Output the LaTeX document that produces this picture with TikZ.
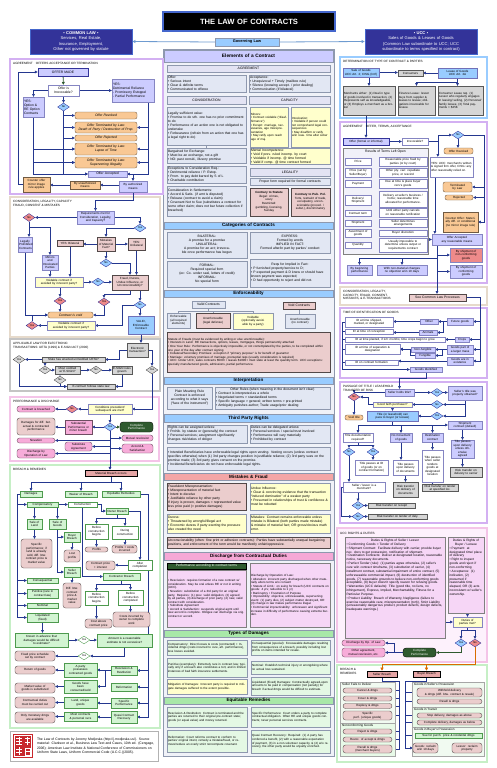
\documentclass[tikz,border=0pt]{standalone}
\usepackage{fontspec}
\setmainfont{Liberation Sans}
\usetikzlibrary{arrows.meta,shapes.geometric,calc}
\pgfdeclarelayer{back}\pgfdeclarelayer{mid}\pgfsetlayers{back,mid,main}
\definecolor{navy}{HTML}{333399}
\definecolor{navyb}{HTML}{4466CC}
\definecolor{lav}{HTML}{CCCCFF}
\definecolor{purpf}{HTML}{D3B0F2}
\definecolor{lblue}{HTML}{99CCFF}
\definecolor{gblue}{HTML}{E2E7F3}
\definecolor{gborder}{HTML}{8E98AE}
\definecolor{cbg}{HTML}{F0F2F8}
\definecolor{shcol}{HTML}{E3E3F3}
\definecolor{rosy}{HTML}{EBCDCD}
\definecolor{rosydk}{HTML}{E5A5A5}
\definecolor{salmon}{HTML}{F4A6A6}
\definecolor{pinkh}{HTML}{F6A8D6}
\definecolor{pinkbox}{HTML}{F7ACD9}
\definecolor{pinklt}{HTML}{F6D6F6}
\definecolor{pinkfr}{HTML}{F4C4E8}
\definecolor{pinkbg}{HTML}{FDF1FC}
\definecolor{greenh}{HTML}{A8E8A8}
\definecolor{greenbox}{HTML}{D2F4D2}
\definecolor{greenb}{HTML}{4E9A4E}
\definecolor{greenfr}{HTML}{C6EFC6}
\definecolor{subg}{HTML}{F1FAF1}
\definecolor{yel}{HTML}{FFFFCC}
\definecolor{orng}{HTML}{F9C894}
\definecolor{dgreen}{HTML}{2F5A2F}
\definecolor{arrowc}{HTML}{24378F}
\definecolor{beigefr}{HTML}{E6DACB}
\definecolor{grayf}{HTML}{D6D6D6}
\definecolor{grayfr}{HTML}{C4C4C4}
\definecolor{redf}{HTML}{EE8A8A}
\definecolor{sealred}{HTML}{C8282D}
\definecolor{govline}{HTML}{6E9BD0}
\newcommand\fta{\fontsize{3.35}{4.0}\selectfont}
\newcommand\fsm{\fontsize{3.0}{3.55}\selectfont}
\newcommand{\bx}[7][]{%
\pgfmathsetmacro{\bxw}{#5-#3}%
\pgfmathsetmacro{\bxh}{#6-#4}%
\pgfmathsetmacro{\bxt}{max(#5-#3-2,2)}%
\node[bxs,minimum width=\bxw pt,minimum height=\bxh pt,text width=\bxt pt,#1] (#2) at ({(#3+#5)/2},{(#4+#6)/2}) {#7};}
\newcommand{\dm}[5][]{\node[dms,#1] (#2) at (#3,#4) {#5};}
\tikzset{
 bxs/.style={draw=gborder,line width=0.35pt,fill=white,inner xsep=1pt,inner ysep=0.3pt,align=center,font=\fta},
 L/.style={align=left},
 S/.style={font=\fsm},
 cb/.style={fill=gblue,draw=gborder},
 hd/.style={fill=lav,draw=gborder,font=\bfseries\fontsize{4.8}{5.4}\selectfont},
 hb/.style={fill=lblue,draw=gborder,font=\bfseries\fontsize{4.6}{5.2}\selectfont},
 hr/.style={fill=salmon,draw=gborder,font=\bfseries\fontsize{4.6}{5.2}\selectfont},
 hp/.style={fill=pinkh,draw=gborder,font=\bfseries\fontsize{4.6}{5.2}\selectfont},
 hg/.style={fill=greenh,draw=gborder,font=\bfseries\fontsize{4.6}{5.2}\selectfont},
 sh/.style={fill=shcol,draw=gborder,font=\fontsize{3.4}{4}\selectfont},
 wb/.style={fill=white,draw=navy!60},
 lavd/.style={fill=lav,draw=navy,line width=0.6pt},
 lavg/.style={fill=lav,draw=navy!60},
 orb/.style={fill=orng,draw=orng!45!black,rounded corners=2pt,font=\itshape\fta},
 orsq/.style={fill=orng,draw=orng!45!black},
 rosyb/.style={fill=rosy,draw=rosy!35!black},
 rosyr/.style={fill=rosy,draw=rosy!35!black,rounded corners=2.5pt},
 rosyd/.style={fill=rosydk,draw=black,line width=0.5pt},
 yelb/.style={fill=yel,draw=navy!60},
 yelc/.style={fill=yel,draw=gborder},
 blueb/.style={fill=lblue,draw=navy!70},
 grayb/.style={fill=grayf,draw=gray!70!black},
 pinkr/.style={fill=pinkbox,draw=pinkbox!45!black,rounded corners=2.5pt},
 pinks/.style={fill=pinkbox,draw=pinkbox!45!black},
 pinkl/.style={fill=pinklt,draw=gray},
 dgr/.style={fill=dgreen,draw=black,text=white,rounded corners=3pt},
 grb/.style={fill=greenbox,draw=greenb},
 grc/.style={fill=greenbox!60,draw=gborder},
 wgb/.style={fill=white,draw=greenb},
 redb/.style={fill=redf,draw=navy!60},
 frP/.style={draw=purpf,line width=1.8pt,fill=white},
 frB/.style={draw=lblue,line width=1.8pt,fill=white},
 frE/.style={draw=beigefr,line width=1.8pt,fill=white},
 frG/.style={draw=grayfr,line width=1.8pt,fill=white},
 frK/.style={draw=pinkfr,line width=1.8pt,fill=white},
 frKb/.style={draw=pinkfr,line width=1.8pt,fill=pinkbg},
 frN/.style={draw=greenfr,line width=1.8pt,fill=white},
 subf/.style={draw=gray!70,fill=subg,line width=0.4pt},
 ttl/.style={font=\fontsize{3.1}{3.7}\selectfont,inner sep=0pt,align=left,anchor=north west},
 dms/.style={diamond,draw=navy,fill=lblue,inner sep=0pt,minimum width=12pt,minimum height=8pt,font=\fontsize{2.7}{3}\selectfont,line width=0.35pt},
 dR/.style={fill=redf},
 dG/.style={fill=grayf,draw=gray!60!black},
 dW/.style={fill=white,draw=greenb},
 ar/.style={draw=arrowc,line width=0.6pt,-{Triangle[length=2.8pt,width=2.7pt]}},
 ln/.style={draw=arrowc,line width=0.6pt},
 arO/.style={draw=orange!85!black,line width=0.9pt,-{Triangle[length=3.2pt,width=3.2pt]}},
 arG/.style={draw=dgreen,line width=0.8pt,-{Triangle[length=2.8pt,width=2.8pt]}},
}
\begin{document}
\begin{tikzpicture}[x=1pt,y=-1pt]
\useasboundingbox (0,0) rectangle (497,768);
\begin{pgfonlayer}{back}
\fill[white] (0,0) rectangle (497,768);
\bx[fill=cbg,draw=gborder,line width=0.8pt]{fCen}{163}{49}{334}{756}{}
\bx[frP]{fAg}{10}{59}{163}{194}{}
\bx[frE]{fCo}{10}{197}{160}{337}{}
\bx[frG]{fEl}{10}{339}{160}{391}{}
\bx[frK]{fPe}{10}{397}{159}{461}{}
\bx[frN]{fBr}{10}{465}{160}{728}{}
\bx[draw=gray!60,fill=white,line width=0.6pt]{fCi}{10}{731}{158}{761}{}
\bx[frB]{fDt}{340}{57}{487}{118}{}
\bx[frP]{fAr}{340}{122}{487}{283}{}
\bx[frE]{fCr}{340}{287}{487}{305}{}
\bx[frP]{fTi}{340}{308}{487}{378}{}
\bx[frP]{fPa}{340}{382}{487}{523}{}
\bx[frKb]{fUr}{337}{528}{487}{662}{}
\bx[frN]{fBr2}{337}{665}{487}{762}{}
\end{pgfonlayer}
% ---------- top ----------
\bx[fill=black,draw=navyb,line width=1.3pt,text=white,font=\bfseries\fontsize{7.6}{9}\selectfont]{title}{163}{12}{335}{31}{THE LAW OF CONTRACTS}
\bx[fill=navy,draw=navyb,line width=0.8pt,text=white,font=\fontsize{4.1}{5.3}\selectfont]{cl}{30}{29}{132}{54}{{\bfseries • COMMON LAW •}\\Services, Real Estate,\\Insurance, Employment,\\Other not governed by statute}
\bx[fill=navy,draw=navyb,line width=0.8pt,text=white,font=\fontsize{4.1}{5.3}\selectfont]{ucc}{365}{29}{477}{54}{{\bfseries • UCC •}\\Sales of Goods \& Leases of Goods\\(Common Law subordinate to UCC; UCC\\subordinate to terms specified in contract)}
\bx[fill=lblue,draw=gborder,font=\bfseries\fontsize{3.9}{4.5}\selectfont]{gov}{215}{38}{279}{46}{Governing Law}
% ---------- central column ----------
\bx[hd]{hElem}{164}{50}{333}{62}{Elements of a Contract}
\bx[sh]{hAgr}{167}{65}{330}{72}{AGREEMENT}
\bx[cb,L]{offer}{167}{75}{246}{92}{Offer:\\• Serious intent\\• Clear \& definite terms\\• Communicated to offeree}
\bx[cb,L]{accept}{249}{75}{330}{92}{Acceptance:\\• Unequivocal + Timely (mailbox rule)\\• Silence (knowing accept. / prior dealing)\\• Communication (if bilateral)}
\bx[sh]{hCons}{167}{96}{246}{104}{CONSIDERATION}
\bx[sh]{hCap}{249}{96}{330}{104}{CAPACITY}
\bx[cb,L]{lsv}{167}{107}{246}{145}{Legally sufficient value:\\• Promise to do sth. one has no prior commitment to do\\• Performance of an action one is not obligated to undertake\\• Forbearance (refrain from an action that one has a legal right to do)}
\bx[yelc,L,S]{minors}{250}{107}{288}{147}{Minors:\\• Contract voidable (“disaffirmance”)\\• Except: marriage, necessaries, age misrepresentation\\• May ratify upon reach age of maj.}
\bx[yelc,L,S]{intox}{291}{107}{330}{147}{Intoxication:\\• Voidable if person could not comprehend legal consequences\\• May disaffirm or ratify w/in reas. time after sober}
\bx[cb,L]{bfe}{167}{148}{246}{163}{Bargained for Exchange:\\• Must be an exchange, not a gift\\• NO: past consid., illusory promise}
\bx[yelc,L]{mental}{250}{149}{330}{164}{Mental Incompetence:\\• Void if prev. ruled incomp. by court\\• Voidable if incomp. @ time formed\\• Valid if comp. @ time contract formed}
\bx[cb,L]{excep}{167}{166}{246}{183}{Exceptions to Consideration Req.:\\• Detrimental reliance / P. Estop.\\• Prom. to pay debt barred by S of L\\• Charitable contribution}
\bx[sh]{hLeg}{250}{168}{330}{176}{LEGALITY}
\bx[cb]{proper}{250}{178}{330}{185}{Proper form required for formal contracts}
\bx[cb,L]{settle}{167}{186}{246}{216}{Consideration in Settlements:\\• Accord \& Satis. (if amt is disputed)\\• Release (contract to avoid a claim)\\• Covenant Not to Sue (substitutes a contract for some other claim; does not bar future collection if breached)}
\bx[rosyb,S]{cstat}{250}{188}{288}{216}{{\bfseries Contrary to Statute}\\illegal: crimes,\\usury\\Restricted:\\gambling, licensing,\\Sunday}
\bx[rosyb,S]{cpub}{291}{188}{330}{216}{{\bfseries Contrary to Pub. Pol.}\\Torts, restraint of trade, exculpatory, unconscionable (proced. / subst.), discriminatory}
\bx[hb]{hCat}{164}{222}{333}{229}{Categories of Contracts}
\bx[cb]{bilat}{167}{232}{247}{258}{BILATERAL:\\A promise for a promise\\UNILATERAL:\\A promise for an act; irrevocable once performance has begun}
\bx[cb]{expr}{250}{232}{330}{253}{EXPRESS:\\Formed by words\\IMPLIED IN FACT:\\Formed after/in part by parties' conduct}
\bx[cb]{formal}{167}{261}{247}{287}{FORMAL:\\Required special form\\(ex: Co. under seal, letters of credit)\\INFORMAL:\\No special form}
\bx[cb,L]{implied}{250}{259}{330}{287}{\hfil Reqs for Implied in Fact:\\• P furnished property/service to D;\\• P expected payment \& D knew or should have known payment was expected;\\• D had opportunity to reject and did not.}
\bx[hb]{hEnf}{164}{290}{333}{297}{Enforceability}
\bx[cb]{validc}{192}{301}{225}{308}{Valid Contracts}
\bx[rosyb]{voidc}{283}{302}{315}{309}{Void Contracts}
\bx[cb,S]{enf}{167}{313}{190}{328}{Enforceable\\(all required elements)}
\bx[rosyb,S]{unenf}{196}{313}{230}{328}{Unenforceable\\(legal defense)}
\bx[yelc,S]{voidable}{233}{313}{273}{329}{Voidable\\(optionally avoidable by a party)}
\bx[cb,S]{unenf2}{285}{314}{315}{328}{Unenforceable\\(no contract)}
\bx[rosyb,L,S]{sof}{167}{332}{330}{372}{Statute of Frauds (must be evidenced by writing or else unenforceable):\\• Interests in Land: RE transactions, options, leases, mortgages, things permanently attached\\• One Year Rule: Performance is objectively impossible, or not contemplated by the parties, to be completed within one year of the day after contract signing\\• Collateral/Secondary Promises: exception if “primary purpose” is for benefit of guarantor\\• Marriage: voluntary promises of marriage, prenuptial reqs (usually consideration is required)\\• UCC: Under UCC, sales contracts \$500+ / leases \$1000+ must state at least the quantity term. UCC exceptions: specially manufactured goods, admissions, partial performance.}
\bx[hb]{hInt}{164}{377}{333}{384}{Interpretation}
\bx[cb]{plain}{167}{387}{212}{409}{Plain Meaning Rule\\Contract is enforced according to what it says (“face of the instrument”)}
\bx[cb,L]{orules}{215}{387}{330}{409}{\hfil Other Rules (when meaning in the document isn't clear)\\• Contract is interpreted as a whole\\• Negotiated terms > standardized terms\\• Specific language > general; written terms > pre-printed\\• Ambiguity punishes author; Trade usage/prior dealing}
\bx[hb]{hThi}{164}{414}{333}{422}{Third Party Rights}
\bx[cb,L]{rights}{167}{425}{247}{443}{Rights can be assigned unless:\\• Prohib. by statute or (generally) the contract\\• Personal services; assignment significantly changes risk/duties of obligor}
\bx[cb,L]{duties}{250}{425}{330}{443}{Duties can be delegated unless:\\• Personal services / special trust involved\\• Performance will vary materially\\• Prohibited by contract}
\bx[cb,L]{intben}{167}{447}{330}{470}{• Intended Beneficiaries have enforceable legal rights upon vesting. Vesting occurs (unless contract specifies otherwise) when (1) 3rd party changes position in justifiable reliance; (2) 3rd party sues on the promise made; (3) 3rd party gives consent on the promise.\\• Incidental Beneficiaries do not have enforceable legal rights.}
\bx[hr]{hMis}{164}{473}{333}{480}{Mistakes \& Fraud}
\bx[rosyb,L]{fmis}{167}{483}{246}{510}{Fraudulent Misrepresentation:\\• Misrepresentation of material fact\\• Intent to deceive\\• Justifiable reliance by other party\\If injury is proven, damages = represented value less price paid (= positive damages)}
\bx[yelc,L]{undue}{250}{483}{330}{510}{Undue Influence:\\• Clear \& convincing evidence that the transaction “induced domination” of a weaker party\\• Presumed in relationships of trust \& confidence \& must be rebutted}
\bx[yelc,L]{duress}{167}{514}{246}{533}{Duress:\\• Threatened by wrongful/illegal act\\• Economic duress if party exerting the pressure also created the need}
\bx[yelc,L]{mistk}{250}{514}{330}{533}{Mistakes: Contract remains enforceable unless mistake is Bilateral (both parties made mistake) \& mistake of material fact; OR gross/obvious math error.}
\bx[rosyb,L]{uncon}{167}{537}{330}{548}{Unconscionability (often: fine print or adhesion contracts): Parties have substantially unequal bargaining positions, and enforcement of the term would be manifestly unfair/oppressive.}
\bx[hp]{hDis}{164}{552}{333}{560}{Discharge from Contractual Duties}
\bx[dgr,rounded corners=0pt]{perfc}{167}{563}{246}{569}{Performance according to contract terms}
\bx[pinkl,L,S]{resc}{167}{570}{246}{627}{• Rescission: requires formation of a new contract w/ consideration. May be oral unless RE or not in writing (UCC).\\• Novation: substitution of a 3rd party for an original party. Requires: (1) prev. valid obligation, (2) agreed by all parties, (3) discharge of prior party, (4) new, valid contract with consideration.\\• Substitute Agreement\\• Accord \& Satisfaction: suspends original agmt until new accord is complete. Obligee can discharge via orig. contract or accord.}
\bx[pinkl,L,S]{dopl}{250}{563}{330}{627}{Discharge by Operation of Law:\\• Alteration: innocent party discharged when other materially alters terms w/o consent\\• Statute of Limit.: on suing for breach (UCC contracts on goods: 4 yrs; reducible to 1 yr)\\• Bankruptcy • Frustration of Purpose\\• Impossibility: objective, unforeseeable, supervening event: (1) party dies, (2) subject matter destroyed, OR (3) change in law makes performance illegal.\\• Commercial impracticability: unforeseen and significant increase in difficulty of performance causing extreme burden.}
\bx[hg]{hDam}{164}{630}{333}{637}{Types of Damages}
\bx[grc,L,S]{dcomp}{167}{640}{247}{655}{Compensatory: Direct losses \& costs (contracted) + Incidental dmgs (costs incurred to cure, aft. performance), less losses avoided.}
\bx[grc,L,S]{dcons}{251}{640}{330}{655}{Consequential (special): Foreseeable damages resulting from consequences of a breach, possibly including lost profits on items intended for resale.}
\bx[grc,L,S]{dpun}{167}{658}{247}{677}{Punitive (exemplary): Extremely rare in contract law; typically only if a breach also constitutes a tort, and in limited instances of bad faith insurance settlements.}
\bx[grc,L,S]{dnom}{251}{661}{330}{674}{Nominal: Establish technical injury or wrongdoing where no actual loss sustained.}
\bx[yelc,L,S]{dmit}{167}{679}{247}{694}{Mitigation of Damages: Innocent party is required to mitigate damages suffered to the extent possible.}
\bx[grc,L,S]{dliq}{251}{677}{330}{695}{Liquidated (Fixed) Damages: Contractually agreed-upon amounts to be paid in compensation (not penalty) for breach if actual dmgs would be difficult to estimate.}
\bx[hg]{hEq}{164}{697}{333}{704}{Equitable Remedies}
\bx[grc,L,S]{erest}{167}{707}{247}{727}{Rescission \& Restitution: Contract is terminated and the parties are returned to their original pre-contract state; goods (or equal value) and money returned.}
\bx[grc,L,S]{espec}{251}{707}{330}{727}{Specific Performance: Court orders a party to complete contractual obligation. Often RE and unique goods contracts; never personal services contracts.}
\bx[grc,L,S]{eref}{167}{730}{247}{752}{Reformation: Court reforms contract to conform to parties' original intent, remedy a mistake/fraud, or remove/reduce an overly strict noncompete covenant.}
\bx[grc,L,S]{equasi}{251}{730}{330}{753}{Quasi Contract Recovery: Required: (1) A party has conferred a benefit, (2) with a reasonable expectation of payment, (3) in a non-volunteer capacity, \& (4) w/o recovery, the other party would be unjustly enriched.}
% ---------- left: agreement ----------
\node[ttl] (tAg) at (13,62) {AGREEMENT\quad OFFERS ACCEPTANCE OR TERMINATION};
\bx[lavd]{om}{38}{68}{88}{76}{OFFER MADE}
\bx[wb]{irr}{48}{85}{79}{96}{Offer is\\Irrevocable?}
\bx[lavg,L]{ydr}{112}{79}{154}{102}{YES:\\Detrimental Reliance\\- Promissory Estoppel\\- Partial Performance}
\bx[lavg,L]{yopt}{23}{97}{44}{117}{YES:\\Option \&\\RE Option\\Contracts}
\dm{n1}{63.5}{107}{No}
\bx[orb]{orev}{75}{112}{137}{119}{Offer Revoked}
\bx[orb]{odeath}{75}{122}{137}{133}{Offer Terminated by Law:\\Death of Party / Destruction of Prop.}
\bx[orb]{orej}{75}{135}{137}{141}{Offer Rejected}
\bx[orb]{olapse}{75}{143}{137}{155}{Offer Terminated by Law:\\Lapse of Time}
\bx[orb]{oill}{75}{157}{137}{168}{Offer Terminated by Law:\\Supervening Illegality}
\bx[lavg]{oacc}{88}{171}{127}{177}{Offer Accepted}
\bx[orsq,S]{coff}{23}{177}{50}{192}{Counter offer\\mirror image\\rule applies}
\bx[orsq,S]{unauth}{70}{181}{100}{189}{By unauthorized\\means}
\bx[lavg,S]{auth}{119}{181}{147}{192}{By authorized\\means}
% ---------- left: consideration ----------
\node[ttl] (tCo) at (13,200) {CONSIDERATION, LEGALITY, CAPACITY\\FRAUD, CONSENT \& MISTAKES};
\bx[lavg,S]{req}{77}{211}{114}{224}{Requirements met for\\Consideration, Legality,\\and Capacity?}
\dm[dR]{n2}{29}{217.5}{No}
\dm{y2}{140}{228}{Yes}
\bx[lavg,S]{prohib}{18}{237}{32}{252}{Legally\\Prohibited\\Contracts}
\bx[lavg,S]{minorsL}{42}{255}{58}{270}{Minors and\\Intoxicated\\Parties}
\bx[rosyb,S]{mist}{97}{237}{115}{251}{Mistakes\\of Material\\Fact?}
\bx[rosyb,S]{ybil}{57}{240}{83}{246}{YES: Bilateral}
\bx[rosyb,S]{yuni}{128}{238}{145}{250}{YES:\\Unilateral}
\dm{n3}{106}{263}{No}
\bx[rosyb,S]{fraud}{112}{275}{148}{290}{Fraud, Duress,\\Undue Influence, or\\Unconscionability?}
\bx[yelb,S]{vd1}{35}{277}{83}{287}{Voidable contract if\\avoided by innocent party?}
\dm{n4}{98}{282}{No}
\dm[dR]{y3}{60}{301}{Yes}
\dm[dR]{y4}{104}{302}{Yes}
\dm{n5}{140}{305}{No}
\bx[orb]{cvoid}{48}{312}{93}{318}{Contract is void}
\bx[yelb,S]{vd2}{47}{321}{95}{330}{Voidable contract if\\avoided by innocent party?}
\dm[dR]{y5}{32}{325.5}{Yes}
\bx[blueb,S]{valid}{128}{316}{154}{334}{VALID,\\Enforceable\\Contract}
% ---------- left: electronic ----------
\node[ttl] (tEl) at (13,342) {APPLICABLE LAW FOR ELECTRONIC\\TRANSACTIONS: UETA (1999) \& E-SIGN ACT (2000)};
\bx[grayb,S]{etr}{127}{343}{148}{357}{Electronic\\transaction?}
\bx[grayb,S]{state}{42}{357}{105}{362}{State has enacted unmodified UETA?}
\dm[dG]{y6}{19}{359.5}{Yes}
\dm[dG]{y7}{45}{370}{Yes}
\bx[grayb,S]{most}{55}{366}{80}{374}{Most codified\\w/ E-SIGN?}
\dm[dG]{n8}{96}{370}{No}
\bx[grayb,S]{esign}{112}{366}{132}{374}{E-SIGN rules\\govern}
\dm[dG]{y8}{152}{370}{Yes}
\dm[dG]{n9}{60}{380}{No}
\bx[grayb,S]{econ}{67}{384}{115}{389}{E-contract follows state law}
% ---------- left: performance ----------
\node[ttl] (tPe) at (13,400) {PERFORMANCE \& DISCHARGE};
\bx[pinkr,S]{brch}{17}{406}{55}{412}{Contract is breached}
\dm[dR]{n10}{72}{409}{No}
\bx[yelb,S]{cond}{88}{404}{132}{414}{Conditions precedent/\\subsequent are met?}
\dm{y9}{110}{427}{Yes}
\bx[pinks,S]{subp}{65}{420}{92}{434}{Substantial\\Performance or\\minor breach}
\bx[rosyr,S]{dmgdiff}{17}{418}{55}{435}{Damages for diff. bet.\\actual \& contracted\\performance}
\bx[dgr,S]{cperf}{120}{422}{153}{432}{Complete\\Performance}
\bx[pinkr,S]{mres}{122}{435}{153}{441}{Mutual rescission}
\bx[pinkr,S]{nov}{17}{438}{55}{443}{Novation}
\bx[pinkr,S]{subag}{65}{442}{92}{451}{Substitute\\Agreement}
\bx[pinkr,S]{accs}{122}{444}{153}{453}{Accord \&\\Satisfaction}
\bx[pinkr,S]{dol1}{17}{449}{55}{458}{Discharge by\\Operation of Law}
% ---------- left: breach ----------
\node[ttl] (tBr) at (13,468) {BREACH \& REMEDIES};
\bx[rosyd,S]{mb}{85}{470}{137}{476}{Material Breach occurs}
\bx[grb,S]{dam}{20}{491}{42}{497}{Damages}
\bx[grb,S]{waiv}{65}{491}{97}{497}{Waiver of Breach}
\bx[grb,S]{eqr}{102}{491}{140}{497}{Equitable Remedies}
\bx[grb,S]{comp}{27}{502}{58}{507}{Compensatory}
\bx[wgb,S]{constr}{68}{502}{97}{507}{Construction}
\bx[grb,S]{owner}{106}{508}{128}{514}{Owner Breach}
\bx[grb,S]{sland}{27}{519}{42}{529}{Sale of\\Land}
\bx[grb,S]{sgoods}{49}{519}{66}{529}{Sale of\\Goods}
\bx[wgb,S]{bcb1}{85}{524}{108}{539}{Before\\construction\\begins}
\bx[wgb,S]{dcon}{112}{526}{138}{539}{During\\construction}
\bx[grb,S]{bbr}{64}{532}{80}{542}{Buyer\\Breach}
\bx[rosyr,S]{spland}{21}{539}{52}{568}{Specific\\performance; if\\land is already\\sold, diff. btw.\\contract price \&\\market value}
\bx[rosyr,S]{prof}{85}{547}{108}{552}{Profits}
\bx[rosyr,S]{profc}{112}{545}{137}{553}{Profits + costs\\incurred}
\bx[rosyr,S]{lprof}{64}{550}{80}{562}{Lost\\profits}
\bx[rosyr,S]{cpi}{86}{561}{115}{570}{Contract price\\+ interest}
\bx[wgb,S]{aftc}{128}{560}{152}{570}{After\\completion}
\bx[grb,S]{sbr}{64}{567}{80}{577}{Seller\\Breach}
\bx[grb,S]{ctrb}{103}{573}{140}{580}{Contractor Breach}
\bx[grb,S]{conseq}{27}{578}{58}{583}{Consequential}
\bx[rosyr,S]{dbtw}{63}{583}{81}{608}{Diff. btw.\\contract\\price \&\\market\\value}
\bx[grb,S]{punit}{27}{589}{58}{598}{Punitive (rare in\\contract law)}
\bx[wgb,S]{bcb2}{85}{591}{108}{605}{Before\\construction\\begins}
\bx[wgb,S]{bcc}{118}{590}{143}{605}{Before\\construction\\completed}
\bx[grb,S]{nomin}{27}{603}{58}{608}{Nominal}
\bx[grb,S]{liq}{27}{613}{58}{622}{Liquidated\\(fixed)}
\bx[rosyr,S]{cabove}{85}{619}{112}{628}{Cost above\\contract price}
\bx[rosyr,S]{cinc}{113}{612}{150}{627}{Costs incurred by\\owner to complete\\work}
\bx[grb,S]{known}{15}{633}{68}{647}{Known in advance that\\damages would be difficult\\to estimate?}
\dm[dW]{yd1}{84}{640}{Yes}
\bx[grb,S]{amt}{97}{634}{152}{647}{Amount is a reasonable\\estimate \& not excessive?}
\dm[dW]{yd2}{84}{656}{Yes}
\bx[rosyr,S]{fps}{15}{651}{55}{661}{Fixed price schedule\\set by contract}
\bx[rosyr,S]{retg}{15}{666}{55}{674}{Return of goods}
\bx[grb,S]{poss}{64}{663}{97}{677}{A party\\possesses\\contracted goods}
\bx[grb,S]{rr}{111}{666}{137}{675}{Rescission \&\\Restitution}
\bx[rosyr,S]{mval}{15}{683}{55}{693}{Market value of\\goods is substituted}
\bx[grb,S]{csold}{64}{680}{97}{693}{Goods have\\been\\consumed/sold}
\bx[grb,S]{refm}{111}{683}{137}{691}{Reformation}
\bx[rosyr,S]{cdut}{15}{697}{55}{708}{Contractual duties\\must be carried out}
\bx[grb,S]{lug}{64}{697}{97}{708}{Land, unique\\goods}
\bx[grb,S]{spf}{111}{698}{137}{708}{Specific\\Performance}
\bx[rosyr,S]{omd}{15}{712}{55}{723}{Only monetary dmgs\\are available}
\bx[grb,S]{mcps}{64}{712}{97}{721}{Most contracts\\\& personal svcs}
\bx[grb,S]{qcr}{111}{711}{137}{723}{Quasi Contract\\Recovery}
% citation
\fill[sealred] (13,734) rectangle (33,758);
\draw[white,line width=0.5pt] (14.5,735.5) rectangle (31.5,756.5);
\draw[white,line width=0.7pt] (16,738) -- (22,738) (19,736.5) -- (19,745) (16,741) -- (22,741) (16,744) -- (22,744)
 (25,738) -- (30,738) (27.5,736.5) -- (27.5,745) (25,742) -- (30,742)
 (16,749) -- (22,749) (16,752) -- (22,752) (19,747) -- (19,755) (25,748) -- (30,748) (25,748) -- (25,755) -- (30,755) -- (30,748) (25,751.5) -- (30,751.5);
\bx[draw=none,fill=none,L,font=\fontsize{3.4}{4.4}\selectfont]{cite}{36}{733}{157}{759}{The Law of Contracts by Jeremy Modjeska (http://j.modjeska.us/). Source material: Clarkson et al., Business Law Text and Cases, 10th ed. (Cengage, 2006); American Law Institute \& National Conference of Commissioners on Uniform State Laws, Uniform Commercial Code (U.C.C.)(2005).}
% ---------- right: determination ----------
\node[ttl] (tDt) at (343,60) {DETERMINATION OF TYPE OF CONTRACT \& PARTIES};
\bx[blueb,S]{sog}{343}{68}{379}{77}{Sale of Goods\\UCC Art. 2; CISG (Int'l)}
\bx[grayb,S]{cons}{398}{70}{423}{76}{Consumers}
\bx[blueb,S]{lease}{438}{68}{477}{78}{Lease of Goods\\UCC Art. 2A}
\bx[grayb,L,S]{merch}{343}{86}{395}{115}{Merchants either: (1) Deal in type of goods involved in transaction, (2) Represents self as knowledgeable, or (3) Employs a merchant as a broker}
\bx[grayb,L,S]{fin}{398}{86}{435}{115}{Finance Lease: lessor buys from supplier \& leases to lessee; obligations irrevocable for lessee.}
\bx[grayb,L,S]{clease}{438}{86}{483}{115}{Consumer Lease req. (1) Lessor who regularly engages in leasing/ selling, (2) Personal/ family lessee, (3) Total payments < \$25K}
% ---------- right: agreement ----------
\node[ttl] (tAr) at (343,125) {AGREEMENT\quad OFFER, TERMS, ACCEPTANCE};
\bx[lavd,S]{off2}{343}{138}{389}{145}{Offer (formal or informal)}
\bx[wb,S]{irr2}{402}{138}{428}{145}{Irrevocable?}
\dm{n11}{458}{135}{No}
\bx[orb,S]{rev2}{444}{148}{473}{154}{Offer Revoked}
\bx[wb,L,S]{yucc}{430}{157}{473}{177}{YES: UCC: merchant's written \& signed firm offer, CISG: any offer reasonably relied on.}
\bx[orb,S]{tbl}{443}{182}{472}{192}{Terminated\\by Law}
\bx[orb,S]{rej2}{445}{195}{473}{200}{Rejected}
\bx[orsq,S]{coff2}{443}{212}{478}{232}{Counter Offer: Materially diff. or conditional (no mirror image rule)}
\bx[lavg,S]{acc2}{432}{234}{482}{245}{Offer Accepted\\any reasonable means}
\bx[redb,S]{nonc}{450}{248}{482}{262}{By shipment of\\non-conforming\\goods}
\bx[lavg,S]{begp}{347}{265}{372}{275}{By beginning\\performance}
\bx[lavg,S]{nmc}{377}{265}{427}{275}{With non-material changes\\no objection w/in 10 days}
\bx[lavg,S]{conf}{450}{265}{482}{278}{By shipment of\\conforming\\goods}
\bx[fill=shcol!50,draw=gray]{tlo}{343}{148}{428}{254}{}
\node[font=\fta,inner sep=0pt] (tloT) at (385.5,152) {Results of Terms Left Open};
\bx[wb,S]{tp}{345}{158}{371}{165}{Price}
\bx[wb,S]{tpr}{379}{157}{427}{166}{Reasonable price fixed by\\parties (or by court)}
\bx[wb,S]{tps}{345}{168}{371}{177}{Price (set by\\Seller/Buyer)}
\bx[wb,S]{tpsr}{379}{168}{427}{177}{Other pty. can: repudiate\\price, or rescind}
\bx[wb,S]{tpay}{345}{180}{371}{187}{Payment}
\bx[wb,S]{tpayr}{379}{179}{427}{188}{Due at time \& place buyer\\recv's goods}
\bx[wb,S]{tdel}{345}{195}{371}{205}{Delivery/\\Shipment}
\bx[wb,S]{tdelr}{379}{191}{427}{207}{Delivery at seller's business /\\home; reasonable time\\allocated for performance.}
\bx[wb,S]{tct}{345}{210}{371}{216}{Contract term}
\bx[wb,S]{tctr}{379}{208}{427}{217}{Until either party cancels\\on reasonable notification}
\bx[wb,S]{tsh}{345}{220}{371}{226}{Shipment}
\bx[wb,S]{tshr}{379}{219}{427}{227}{Seller determines\\arrangements}
\bx[wb,S]{tas}{345}{229}{371}{237}{Assortment of\\goods}
\bx[wb,S]{tasr}{379}{230}{427}{236}{Buyer discretion}
\bx[wb,S]{tq}{345}{242}{371}{248}{Quantity}
\bx[wb,S]{tqr}{379}{238}{427}{252}{Usually impossible to\\determine unless output or\\requirements contract}
% ---------- right: consideration ----------
\node[ttl] (tCr) at (343,290) {CONSIDERATION, LEGALITY,\\CAPACITY, FRAUD, CONSENT,\\MISTAKES, \& E-TRANSACTIONS};
\bx[rosyb]{seecl}{409}{294}{466}{301}{See Common Law Processes}
% ---------- right: identification ----------
\node[ttl] (tTi) at (343,311) {TIME OF IDENTIFICATION OF GOODS};
\bx[wb,S]{idsh}{345}{317}{393}{327}{ID at time shipped,\\marked, or designated}
\bx[lavg,S]{oth}{420}{319}{438}{324}{Other}
\bx[lavg,S]{fut}{447}{318}{473}{325}{Future goods}
\bx[wb,S]{idcn}{345}{329}{393}{334}{ID at time of conception}
\bx[lavg,S]{anim}{419}{330}{437}{335}{Animals}
\bx[wb,S]{idpl}{345}{337}{445}{342}{ID at time planted, if 12+ months; time crops begin to grow}
\bx[lavg,S]{crop}{455}{337}{469}{342}{Crops}
\bx[wb,S]{idsp}{345}{344}{400}{354}{ID at time of separation \&\\designation}
\bx[lavg,S]{nfung}{411}{347}{435}{352}{Non-fungible}
\bx[lavg,S]{fung}{415}{353}{435}{358}{Fungible}
\bx[lavg,S]{larg}{447}{345}{473}{354}{Goods part of\\a larger mass}
\bx[wb,S]{idcf}{345}{360}{398}{365}{ID on contract formation}
\bx[lavg,S]{exist}{447}{357}{473}{365}{Goods are in\\existence}
\bx[lavg,S]{gid}{410}{367}{442}{372}{Goods Identified}
% ---------- right: passage ----------
\node[ttl] (tPa) at (343,385) {PASSAGE OF TITLE / LEASEHOLD\\TRANSFER OF RISK};
\bx[lavg,S]{sht}{385}{389}{414}{396}{Seller holds title?}
\dm{y10}{437}{392.5}{Yes}
\bx[lavg,S]{stpo}{448}{386}{482}{400}{Seller's title was\\properly obtained?}
\dm[dR]{n12}{354}{397}{No}
\bx[yelb,S]{gfp}{373}{402}{412}{407}{Good faith purchaser?}
\dm{n13}{437}{404.5}{No}
\bx[orb,S]{vtit}{345}{415}{363}{420}{Void title}
\bx[blueb,S]{tcp}{367}{411}{418}{421}{Title (or leasehold) can\\pass to buyer (or lessee)}
\dm{y11}{437}{416}{Yes}
\bx[lavg,S]{shc}{448}{421}{482}{429}{Shipment\\contract (default)}
\bx[wb,S]{tdr}{343}{433}{373}{442}{Title documentation\\required?}
\bx[lavg,S]{nmv}{390}{433}{412}{442}{No movement\\of goods}
\bx[lavg,S]{dsc}{422}{433}{443}{442}{Destination\\contract}
\bx[lavg,S]{tpud}{451}{440}{474}{458}{Title passes\\upon delivery\\unless otherwise\\agreed}
\dm{n14}{349}{452}{No}
\dm{y14}{373}{452}{Yes}
\bx[wb,S]{tpid}{355}{460}{388}{475}{Title passes at ID\\of goods (or on\\contract formation)}
\bx[wb,S]{tpdd}{393}{460}{418}{475}{Title passes\\upon delivery\\of documents}
\bx[wb,S]{tpws}{422}{450}{443}{482}{Title passes\\when seller\\tenders\\goods at\\designated\\location}
\bx[grayb,S]{rtdc}{450}{467}{482}{477}{Risk transfer on\\delivery to carrier}
\bx[wb,S]{slm}{343}{482}{385}{492}{Seller / lessor is a\\merchant?}
\bx[grayb,S]{rtdd}{393}{482}{418}{497}{Risk transfer\\on delivery of\\documents}
\bx[grayb,S]{rtsl}{422}{485}{458}{491}{Risk transfer on tender\\at specified loc.}
\dm{y15}{358}{505.5}{Yes}
\bx[grayb,S]{rtr}{368}{503}{415}{508}{Risk transfer on receipt}
\dm{n15}{358}{516.5}{No}
\bx[grayb,S]{rtt}{368}{514}{427}{519}{Risk transfer on tender of dely.}
% ---------- right: UCC rights ----------
\node[ttl] (tUr) at (340,532) {UCC RIGHTS \& DUTIES};
\bx[pinkl]{sdut}{345}{537}{445}{638}{}
\node[anchor=north,text width=97pt,font=\fontsize{3.2}{3.85}\selectfont,inner sep=0pt] (sdutT) at (395,539) {\centering Duties \& Rights of Seller / Lessor\par\raggedright
• Conforming Goods = Tender of Delivery\par
• Shipment Contract: Facilitate delivery with carrier, provide buyer nec. docs to get possession, notification of shipment.\par
• Destination Contracts: Deliver at designated location, reasonable notice, necessary documents.\par
• Perfect Tender (rule): (1) parties agree otherwise, (2) seller's cure w/in contract timeframe, (3) substitution of carrier, (4) installment contract, substantial impairment of entire contract, (5) unforeseeable commercial impact, (6) destruction of identified goods, (7) reasonable grounds to believe non-conforming goods acceptable, (8) buyer doesn't specify reason for refusing goods.\par
• Warranties (UCC defaults): Title (good title, no liens, no infringement), Express, Implied, Merchantability, Fitness for a Particular Purpose.\par
• Product Liability: Breach of Warranty, Negligence (failure to exercise reasonable care, misrepresentation (tort)), Strict Liability (unreasonably dangerous product, product defects, design defects, inadequate warnings.)\par};
\bx[pinkl]{bdut}{448}{537}{484}{613}{}
\node[anchor=north,text width=33pt,font=\fontsize{3.2}{3.85}\selectfont,inner sep=0pt] (bdutT) at (466,539) {\centering Duties \& Rights of Buyer / Lessee\par\raggedright
• Payment: at designated time/ place of delivery\par
• Right to inspect goods and reject if non-conforming\par
• Acceptance: (1) indication, (2) presumed if reasonable time elapsed, OR (3) acts inconsistent w/ seller's ownership.\par};
\bx[yelb,S]{dmet}{453}{617}{482}{627}{Duties of\\parties met?}
\dm{y16}{461}{643}{Yes}
\dm[dR]{n16}{475}{643}{No}
\bx[pinkr,S]{dol2}{342}{640}{385}{646}{Discharge by Op. of Law}
\bx[pinkr,S]{oth2}{342}{648}{385}{657}{Other agreement,\\mutual rescission, etc.}
\bx[dgr,S]{cp2}{403}{648}{436}{657}{Complete\\Performance}
% ---------- right: breach ----------
\node[ttl] (tBr2) at (340,668) {BREACH \&\\REMEDIES};
\bx[rosyd,S]{sb2}{367}{671}{397}{677}{Seller Breach}
\bx[rosyd,S]{bb2}{413}{671}{440}{677}{Buyer Breach}
\bx[subf]{sfd}{340}{682}{395}{723}{}
\node[ttl] (sfdT) at (342,683.5) {Seller Fails to Deliver};
\bx[rosyr,S]{canc}{343}{688}{392}{693}{Cancel \& dmgs}
\bx[rosyr,S]{cov}{343}{696}{392}{701}{Cover \& dmgs}
\bx[rosyr,S]{repl}{343}{703.5}{392}{708.5}{Replevy \& dmgs}
\bx[rosyr,S]{spec2}{343}{711}{392}{720}{Specific\\perf. (unique goods)}
\bx[subf,fill=greenbox!50]{ncg}{340}{723}{395}{756}{}
\node[ttl] (ncgT) at (342,724.5) {Nonconforming Goods};
\bx[rosyr,S]{rejd}{343}{729}{392}{734}{Reject \& dmgs}
\bx[rosyr,S]{revd}{343}{737}{392}{742}{Revoc. of accept \& dmgs}
\bx[rosyr,S]{recd}{343}{745}{392}{753}{Recall \& dmgs\\(merchant buyers)}
\bx[subf]{gsp}{412}{682}{484}{707}{}
\node[ttl] (gspT) at (414,683.5) {Goods in Seller's Possession};
\bx[rosyr,S]{withd}{417}{688}{482}{697}{Withhold delivery\\\& dmgs (diff. btw. contract \& resale)}
\bx[rosyr,S]{resl}{417}{699}{482}{704}{Resell \& dmgs}
\bx[subf,fill=greenbox!50]{git}{412}{707}{484}{727}{}
\node[ttl] (gitT) at (414,708.5) {Goods in Transit};
\bx[rosyr,S]{stopd}{417}{713}{482}{718}{Stop delivery, damages as above}
\bx[rosyr,S]{compd}{417}{720}{482}{725}{Complete delivery, damages as below}
\bx[subf]{gbp}{412}{727}{484}{756}{}
\node[ttl] (gbpT) at (414,728.5) {Goods in Buyer's Possession};
\bx[grb,S]{suep}{415}{733}{482}{738}{Sue for purch. price \& incidental dmgs}
\bx[rosyr,S]{recg}{413}{743}{438}{753}{Goods: reclaim\\w/in 10 days}
\bx[rosyr,S]{lesr}{452}{743}{482}{753}{Lessor: reclaim\\property}
% ================= connectors =================
\begin{pgfonlayer}{mid}
\draw[draw=govline,line width=0.8pt,-{Triangle[length=3pt,width=3pt]}] (gov.west) -- (cl.east);
\draw[draw=govline,line width=0.8pt,-{Triangle[length=3pt,width=3pt]}] (gov.east) -- (ucc.west);
% central
\draw[ln,draw=gborder] (lsv) -- (bfe);
\draw[ln,draw=gborder] (validc.south) -- ++(0,3) -| (enf.north);
\draw[ln,draw=gborder] (validc.south) -- ++(0,3) -| (unenf.north);
\draw[ln,draw=gborder] (validc.south) -- ++(0,3) -| (voidable.north);
\draw[ln,draw=gborder] (voidc.south) -- (voidc.south |- unenf2.north);
% agreement left
\draw[arG] (om) -- (irr);
\draw[ar] (irr) -- (ydr);
\draw[ar] (irr.west) -| (yopt.north);
\draw[ar] (irr) -- (n1);
\foreach \b in {orev,odeath,orej,olapse,oill,oacc} \draw[ar] (n1.south) |- (\b.west);
\foreach \b in {odeath,olapse,oill,oacc} \draw[ar] ([xshift=-6pt]ydr.south east) |- (\b.east);
\foreach \b in {olapse,oill,oacc} \draw[ar] (yopt.south) |- (\b.west);
\draw[ar] (auth.west |- unauth.east) -- (unauth.east);
\draw[ar] (unauth.west) -- (coff.east |- unauth.west);
\draw[ar] (oacc.east) -| (auth.north);
\draw[ar] (coff.west) -- ++(-5,0) |- (om.west);
% consideration left
\draw[ar] (auth.south) -- ++(0,8) -| (req.north);
\draw[ar] (req.west) -- (n2.east);
\draw[ar] (req.east) -| (y2.north);
\draw[ar] (n2.south) -- (n2.south |- prohib.north);
\draw[ar] (n2.south) -- ++(0,6) -| (minorsL.north);
\draw[ar] (y2.west) -| (mist.north);
\draw[ar] (mist.east) -- (mist.east -| yuni.west);
\draw[ar] (mist.west) -- (mist.west -| ybil.east);
\draw[ar] (mist.south) -- (n3.north);
\draw[ar] (n3.east) -| (fraud.north);
\draw[ar] (yuni.south) -- (yuni.south |- fraud.north);
\draw[ar] (ybil.south) -- (ybil.south |- vd1.north);
\draw[ar] (minorsL.south) -- (minorsL.south |- vd1.north);
\draw[ar] (vd1.east) -- (n4.west);
\draw[ar] (n4.east) -- (n4.east -| fraud.west);
\draw[ar] (vd1.south -| y3) -- (y3.north);
\draw[ar] (y3.south) -- (y3.south |- cvoid.north);
\draw[ar] (fraud.south) -- ++(0,4) -| (y4.north);
\draw[ar] (y4.south) |- (cvoid.east);
\draw[ar] (fraud.south -| n5) -- (n5.north);
\draw[ar] (n5.south) -- (n5.south |- valid.north);
\draw[ar] (n5.west) -- ++(-12,0) |- (vd2.east);
\draw[ar] (prohib.south) |- (cvoid.west);
\draw[ar] (vd2.west) -- (y5.east);
\draw[ar] (y5.north) |- (cvoid.west);
% electronic
\draw[ar] (valid.south) -- (valid.south |- etr.north);
\draw[ar] (etr.west) -- ++(-8,0) |- (state.east);
\draw[ar] (state.west) -- (y6.east);
\draw[ar] (y6.south) |- (econ.west);
\draw[ar] (state.south -| y7) -- (y7.north);
\draw[ar] (y7.east) -- (most.west);
\draw[ar] (most.east) -- (n8.west);
\draw[ar] (n8.east) -- (esign.west);
\draw[ar] (most.south -| n9) -- (n9.north);
\draw[ar] (n9.south) |- (econ.west);
\draw[ar] (esign.south) |- (econ.east);
\draw[ar] (etr.east) -| (y8.north);
\draw[ar] (y8.south) |- (cond.east);
% performance
\draw[ar] (cond.west) -- (n10.east);
\draw[ar] (n10.west) -- (brch.east);
\draw[ar] (cond.south -| y9) -- (y9.north);
\draw[ar] (y9.west) -- (y9.west -| subp.east);
\draw[ar] (subp.west) -- (subp.west -| dmgdiff.east);
\draw[arG] (y9.east) -- (y9.east -| cperf.west);
\foreach \b in {mres,accs} \draw[ar] (y9.south) |- (\b.west);
\foreach \b in {subag,nov,dol1} \draw[ar] (y9.south) |- (\b.east);
\draw[ar] (y9.south) -- (y9.south |- mb.north);
% breach left
\foreach \b in {dam,waiv,eqr} \draw[ar] (mb.south) -- ++(0,6) -| (\b.north);
\foreach \b in {comp,conseq,punit,nomin,liq} \draw[ar] (dam.west) -- ++(-3,0) |- (\b.west);
\draw[ar] (comp.east) -- (constr.west);
\draw[ar] (comp.south -| sland) -- (sland.north);
\draw[ar] (comp.south -| sgoods) -- (sgoods.north);
\draw[ar] (constr.east) -- ++(4,0) |- (owner.west);
\draw[ar] (constr.south) |- (ctrb.west);
\draw[ar] (owner.south) -- ++(0,4) -| (bcb1.north);
\draw[ar] (owner.south) -- ++(0,4) -| (dcon.north);
\draw[ar] (owner.east) -| (aftc.north);
\draw[ar] (bcb1) -- (prof);
\draw[ar] (dcon.south) -- (dcon.south |- profc.north);
\draw[ar] (aftc.west) -- (aftc.west -| cpi.east);
\draw[ar] (sland.south) -- (sland.south |- spland.north);
\draw[ar] (sgoods.south) |- (bbr.west);
\draw[ar] (sgoods.south) |- (sbr.west);
\draw[ar] (bbr) -- (lprof);
\draw[ar] (sbr) -- (dbtw);
\draw[ar] (ctrb.south) -- ++(0,4) -| (bcb2.north);
\draw[ar] (ctrb.south) -- ++(0,4) -| (bcc.north);
\draw[ar] (bcb2.south) -- (bcb2.south |- cabove.north);
\draw[ar] (bcc.south) -- (bcc.south |- cinc.north);
\draw[ar] (liq.south) -- (liq.south |- known.north);
\draw[ar] (known.east) -- (yd1.west);
\draw[ar] (yd1.east) -- (yd1.east -| amt.west);
\draw[ar] (amt.south) |- (yd2.east);
\draw[ar] (yd2.west) -- (fps.east);
\foreach \b in {rr,refm,spf,qcr} \draw[ar] (eqr.east) -- ++(8,0) |- (\b.east);
\draw[ar] (rr.west) -- ++(-6,0) |- (poss.east);
\draw[ar] (rr.west) -- ++(-6,0) |- (csold.east);
\draw[ar] (poss.west) -- (poss.west -| retg.east);
\draw[ar] (csold.west) -- (csold.west -| mval.east);
\draw[ar] (spf.west) -- (spf.west -| lug.east);
\draw[ar] (lug.west) -- (lug.west -| cdut.east);
\draw[ar] (qcr.west) -- (qcr.west -| mcps.east);
\draw[ar] (mcps.west) -- (mcps.west -| omd.east);
% determination
\draw[ar] (sog.south -| merch.north) -- (merch.north);
\draw[ar] (sog.east) -- (sog.east -| cons.west);
\draw[ar] (lease.west) -- (lease.west -| cons.east);
\draw[ar] (lease.south) -- (lease.south |- clease.north);
\draw[ar] (lease.south) -- ++(0,4) -| (fin.north);
% agreement right
\draw[ar] (off2.north |- merch.south) -- (off2.north);
\draw[ar] (off2) -- (irr2);
\draw[ar] (irr2.east) -- ++(10,0) |- (n11.west);
\draw[ar] (irr2.east) -| ([xshift=8pt]yucc.north west);
\draw[ar] (n11.south) -- (n11.south |- rev2.north);
\foreach \b in {tbl,rej2,coff2} \draw[ar] (n11.east) -- ++(20,0) |- (\b.east);
\coordinate (yj) at ($(yucc.south west)+(5,0)$);
\draw[ar] (yj) -- (yj |- acc2.north);
\draw[ar] (tlo.east |- acc2) -- (acc2.west);
\foreach \a/\b in {tp/tpr,tps/tpsr,tpay/tpayr,tdel/tdelr,tct/tctr,tsh/tshr,tas/tasr,tq/tqr} \draw[ar] (\a) -- (\b);
\coordinate (aj) at (437,258);
\draw[ln] (acc2.south -| aj) -- (aj);
\draw[ar] (aj) -| (begp.north);
\draw[ar] (aj) -| (nmc.north);
\draw[ar] (acc2.south -| aj) |- (nonc.west);
\draw[ar] (acc2.south -| aj) |- (conf.west);
\draw[ar] (aj) -- (aj |- seecl.north);
% identification
\foreach \b in {fut,crop,larg,exist} \draw[ar] (seecl.east) -- ++(14,0) |- (\b.east);
\draw[ar] (fut.west) -- (fut.west -| oth.east);
\draw[ar] (oth.west) -- (oth.west -| idsh.east);
\draw[ar] (fut.west) -- ++(-4,0) |- (anim.east);
\draw[ar] (anim.west) -- (anim.west -| idcn.east);
\draw[ar] (crop.west) -- (idpl.east);
\draw[ar] (larg.west) -- ++(-5,0) |- (nfung.east);
\draw[ar] (larg.west) -- ++(-5,0) |- (fung.east);
\draw[ar] (nfung.west) -- (nfung.west -| idsp.east);
\draw[ar] (fung.west) -- ++(-5,0) |- (idsp.east);
\draw[ar] (exist.west) -- (exist.west -| idcf.east);
\foreach \b in {idcn,idpl,idsp,idcf} \draw[ln] (\b.west) -- ++(-2.5,0);
\draw[ar] (idsh.west) -- ++(-2.5,0) |- (gid.west);
% passage
\draw[ar] (gid.south) -- ++(0,6) -| (sht.north);
\draw[ar] (sht.east) -- (y10.west);
\draw[ar] (y10.east) -- (y10.east -| stpo.west);
\draw[ar] (sht.west) -| (n12.north);
\draw[ar] (n12.south) -- (n12.south |- vtit.north);
\draw[ar] (stpo.south) |- (n13.east);
\draw[ar] (n13.west) -- (n13.west -| gfp.east);
\draw[ar] (stpo.south) |- (y11.east);
\draw[ar] (y11.west) -- (y11.west -| tcp.east);
\draw[ar] (gfp.south) -- (gfp.south |- tcp.north);
\draw[ar] (gfp.west) -- ++(-5,0) |- (n12.east);
\coordinate (tj) at (392.5,425);
\draw[ln] (tcp.south -| tj) -- (tj);
\draw[ar] (tj) -| (tdr.north);
\draw[ar] (tj) -| (nmv.north);
\draw[ar] (tj) -| (dsc.north);
\draw[ar] (tj) -- (tj -| shc.west);
\draw[ar] (shc.south -| tpud) -- (tpud.north);
\draw[ar] (tdr.south) -- ++(0,3) -| (n14.north);
\draw[ar] (tdr.south) -- ++(0,3) -| (y14.north);
\draw[ar] (y14.south) -- (y14.south |- tpid.north);
\draw[ar] (nmv.south) -- (nmv.south |- tpdd.north);
\draw[ar] (dsc) -- (tpws);
\draw[ar] (tpud.south) -- (tpud.south |- rtdc.north);
\draw[ar] (n14.south) -- (n14.south |- slm.north);
\draw[ar] (tpdd) -- (rtdd);
\draw[ar] (tpws.south) -- (tpws.south |- rtsl.north);
\draw[ar] (slm.south -| y15) -- (y15.north);
\draw[ar] (y15.east) -- (y15.east -| rtr.west);
\draw[ar] (slm.west) -- ++(-2,0) |- (n15.west);
\draw[ar] (n15.east) -- (n15.east -| rtt.west);
% UCC rights
\draw[ar] (sdut.east |- dmet) -- (dmet.west);
\draw[ar] (bdut.south -| dmet) -- (dmet.north);
\draw[ar] (dmet.south) -- ++(0,3) -| (y16.north);
\draw[ar] (dmet.south) -- ++(0,3) -| (n16.north);
\draw[arG] (y16.south) |- (cp2.east);
\draw[ar] (cp2.west) -- (cp2.west -| oth2.east);
\draw[ar] (cp2.west) -- ++(-9,0) |- (dol2.east);
% breach right
\draw[arO] (n16.south) -- ++(0,17) -| (sb2.north);
\draw[arO] (n16.south) -- ++(0,17) -| (bb2.north);
\coordinate (sj) at (399,681);
\draw[ln] (sb2.south) |- (sj);
\foreach \b in {canc,cov,repl,spec2,rejd,revd,recd} \draw[ar] (sj) |- (\b.east);
\coordinate (bj) at (405,681);
\draw[ln] (bb2.south) |- (bj);
\foreach \b in {withd,resl,stopd,compd,suep,recg} \draw[ar] (bj) |- (\b.west);
\draw[ar,{Triangle[length=2.8pt,width=2.7pt]}-{Triangle[length=2.8pt,width=2.7pt]}] (recg) -- (lesr);
\end{pgfonlayer}
\end{tikzpicture}
\end{document}
